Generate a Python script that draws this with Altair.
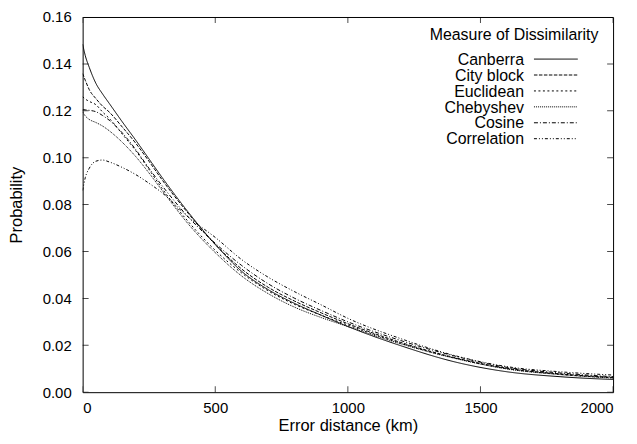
import altair as alt
import pandas as pd

# ---- data ----
km = [0, 10, 25, 50, 75, 100, 150, 200, 250, 300, 400, 500, 600, 700, 800, 900,
      1000, 1200, 1400, 1600, 1800, 2000]

canberra = [0.1484, 0.1435, 0.1385, 0.1317, 0.1272, 0.1232, 0.1152, 0.1075, 0.0995, 0.0915,
            0.0765, 0.0630, 0.0515, 0.0437, 0.0378, 0.0328, 0.0280, 0.0198, 0.0130, 0.0087,
            0.0066, 0.0054]
city_block = [0.1359, 0.1330, 0.1290, 0.1252, 0.1220, 0.1195, 0.1130, 0.1062, 0.0985, 0.0905,
              0.0760, 0.0630, 0.0525, 0.0447, 0.0388, 0.0338, 0.0292, 0.0212, 0.0148, 0.0102,
              0.0078, 0.0063]
euclidean = [0.1260, 0.1250, 0.1240, 0.1226, 0.1195, 0.1168, 0.1100, 0.1030, 0.0950, 0.0868,
             0.0725, 0.0605, 0.0508, 0.0432, 0.0374, 0.0328, 0.0286, 0.0208, 0.0146, 0.0100,
             0.0076, 0.0061]
chebyshev = [0.1195, 0.1178, 0.1163, 0.1150, 0.1135, 0.1115, 0.1065, 0.1005, 0.0935, 0.0860,
             0.0715, 0.0595, 0.0495, 0.0420, 0.0362, 0.0318, 0.0280, 0.0206, 0.0145, 0.0099,
             0.0075, 0.0060]
cosine = [0.1205, 0.1204, 0.1202, 0.1196, 0.1180, 0.1160, 0.1105, 0.1035, 0.0955, 0.0880,
          0.0745, 0.0635, 0.0540, 0.0462, 0.0400, 0.0348, 0.0300, 0.0220, 0.0155, 0.0106,
          0.0082, 0.0066]
correlation = [0.0860, 0.0915, 0.0955, 0.0985, 0.0990, 0.0982, 0.0958, 0.0928, 0.0891, 0.0850,
               0.0745, 0.0660, 0.0565, 0.0490, 0.0428, 0.0372, 0.0315, 0.0228, 0.0157, 0.0109,
               0.0087, 0.0073]

series_names = ["Canberra", "City block", "Euclidean", "Chebyshev", "Cosine", "Correlation"]
series_values = [canberra, city_block, euclidean, chebyshev, cosine, correlation]
dash_patterns = [[1, 0], [3.5, 1.5], [2, 2.5], [1, 1], [4, 2, 1, 2], [3, 2, 1, 2, 1, 2]]
legend_title = ["Measure of Dissimilarity"]

x_ticks = [0, 500, 1000, 1500, 2000]
y_ticks = [0.00, 0.02, 0.04, 0.06, 0.08, 0.10, 0.12, 0.14, 0.16]

rows = []
for name, vals in zip(series_names, series_values):
    for k, v in zip(km, vals):
        rows.append({"series": name, "km": k, "p": v})
df = pd.DataFrame(rows)
xt = pd.DataFrame({"km": x_ticks})
yt = pd.DataFrame({"p": y_ticks})
leg_df = pd.DataFrame({"series": series_names})
title_df = pd.DataFrame({"t": legend_title})

FONT = "Liberation Sans"
W, H = 533, 377
xscale = alt.Scale(domain=[0, 2000], nice=False, zero=False)
yscale = alt.Scale(domain=[0, 0.16], nice=False)
dash_scale = alt.Scale(domain=series_names, range=dash_patterns)

lines = alt.Chart(df).mark_line(color="black", strokeWidth=1, interpolate="monotone", clip=True).encode(
    x=alt.X("km:Q", scale=xscale,
            axis=alt.Axis(values=x_ticks, format="d", title="Error distance (km)",
                          labelPadding=8, titlePadding=3)),
    y=alt.Y("p:Q", scale=yscale,
            axis=alt.Axis(values=y_ticks, format=".2f", title="Probability",
                          labelPadding=11.5, titlePadding=18)),
    strokeDash=alt.StrokeDash("series:N", scale=dash_scale, legend=None),
    detail="series:N",
)

# inward tick marks on all four sides (gnuplot style), clipped to the frame
tick_style = dict(color="black", thickness=1, size=12, clip=True)
xt_bottom = alt.Chart(xt).mark_tick(orient="vertical", **tick_style).encode(
    x=alt.X("km:Q", scale=xscale), y=alt.YDatum(0.0, scale=yscale, axis=None))
xt_top = alt.Chart(xt).mark_tick(orient="vertical", **tick_style).encode(
    x=alt.X("km:Q", scale=xscale), y=alt.YDatum(0.16, scale=yscale, axis=None))
yt_left = alt.Chart(yt).mark_tick(orient="horizontal", **tick_style).encode(
    y=alt.Y("p:Q", scale=yscale, axis=None), x=alt.XDatum(0, scale=xscale))
yt_right = alt.Chart(yt).mark_tick(orient="horizontal", **tick_style).encode(
    y=alt.Y("p:Q", scale=yscale, axis=None), x=alt.XDatum(2000, scale=xscale))

# key: right-aligned labels followed by line samples (gnuplot layout)
leg_title = alt.Chart(title_df).mark_text(
    align="center", baseline="alphabetic", font=FONT, fontSize=16, color="black"
).encode(x=alt.value(433.5), y=alt.value(23), text="t:N")
leg_text = alt.Chart(leg_df).mark_text(
    align="right", baseline="alphabetic", font=FONT, fontSize=16, color="black"
).encode(
    x=alt.value(443.5),
    y=alt.Y("series:N", sort=series_names, axis=None,
            scale=alt.Scale(type="point", domain=series_names, range=[48, 128], padding=0)),
    text="series:N",
)
leg_lines = alt.Chart(leg_df).mark_rule(color="black", strokeWidth=1).encode(
    x=alt.value(453.5), x2=alt.value(497.5),
    y=alt.Y("series:N", sort=series_names, axis=None,
            scale=alt.Scale(type="point", domain=series_names, range=[42.3, 122.3], padding=0)),
    strokeDash=alt.StrokeDash("series:N", scale=dash_scale, legend=None),
)

chart = alt.layer(
    lines, xt_bottom, xt_top, yt_left, yt_right, leg_title, leg_text, leg_lines
).resolve_scale(y="independent").properties(
    width=W, height=H,
    autosize=alt.AutoSizeParams(type="none"),
    padding={"left": 75, "top": 8, "right": 16, "bottom": 43},
    background="white",
).configure_view(
    stroke="black", strokeWidth=1
).configure_axis(
    domain=False, ticks=False, grid=False,
    labelFont=FONT, labelFontSize=15, labelColor="black",
    titleFont=FONT, titleFontSize=16.5, titleFontWeight="normal", titleColor="black",
)

chart.save("out.html", embed_options={"renderer": "svg", "actions": False})
